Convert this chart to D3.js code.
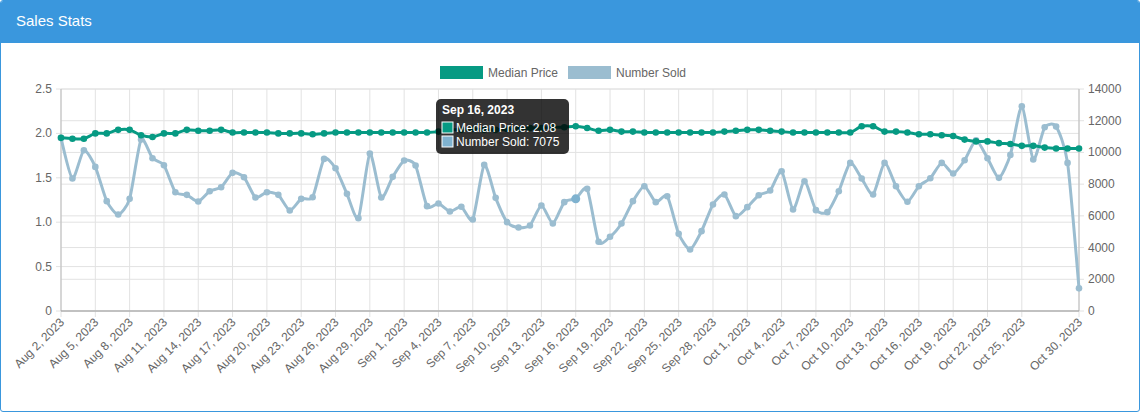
<!DOCTYPE html>
<html><head><meta charset="utf-8">
<script src="https://cdn.jsdelivr.net/npm/d3@7"></script>
<style>
body{margin:0;background:#fff;font-family:"Liberation Sans",Arial,sans-serif;}
#card{position:absolute;left:0;top:0;width:1138px;height:410px;border:1px solid #3a97dd;border-radius:3px;overflow:hidden;}
#head{height:42px;background:#3a97dd;color:#fff;font-size:15px;line-height:40px;padding-left:15px;}
</style></head>
<body>
<div id="card"><div id="head">Sales Stats</div></div>
<svg id="viz" width="1140" height="412" style="position:absolute;left:0;top:0"></svg>
<script>
const startDate = new Date(2023, 7, 2);
const medianPrice = [1.95,1.94,1.94,2.00,2.00,2.04,2.04,1.98,1.96,2.00,2.00,2.04,2.03,2.03,2.04,2.01,2.01,2.01,2.01,2.00,2.00,2.00,1.99,2.00,2.01,2.01,2.01,2.01,2.01,2.01,
  2.01,2.01,2.01,2.02,2.04,2.04,2.05,2.04,2.04,2.05,2.05,2.06,2.06,2.07,2.07,2.08,2.06,2.03,2.04,2.02,2.02,2.01,2.01,2.01,2.01,2.01,2.01,2.01,2.02,2.03,
  2.04,2.04,2.03,2.02,2.01,2.01,2.01,2.01,2.01,2.01,2.08,2.08,2.02,2.02,2.01,1.99,1.99,1.98,1.97,1.93,1.91,1.91,1.89,1.88,1.86,1.86,1.84,1.83,1.83,1.83];
const numberSold = [10915,8354,10138,9088,6926,6087,7073,10810,9634,9193,7493,7325,6905,7556,7808,8711,8438,7157,7493,7325,6339,7073,7178,9592,9004,7388,5856,9928,7157,8459,
  9487,9172,6612,6780,6276,6570,5772,9214,7136,5604,5268,5394,6654,5520,6864,7075,7703,4366,4681,5520,6926,7871,6864,7241,4870,3883,5037,6717,7346,5982,
  6549,7304,7598,8816,6402,8186,6360,6234,7556,9340,8354,7346,9340,7871,6885,7871,8375,9340,8669,9508,10768,9634,8396,9844,12909,9550,11586,11628,9340,1427];
const leftTicks = [0,0.5,1.0,1.5,2.0,2.5];
const rightTicks = [0,2000,4000,6000,8000,10000,12000,14000];
const seriesNames = ["Median Price","Number Sold"];
const colors = ["#069a83","#9bbdd0"];

const fmt = d3.timeFormat("%b %-d, %Y");
const dates = numberSold.map((_, i) => d3.timeDay.offset(startDate, i));
const labelIdx = d3.range(0, 85, 3).concat([89]);

const svg = d3.select("#viz");
const L = 61, R = 1079, T = 89, B = 311;
const x = d3.scaleLinear().domain([0, 89]).range([L, R]);
const yL = d3.scaleLinear().domain([0, 2.5]).range([B, T]);
const yR = d3.scaleLinear().domain([0, 14000]).range([B, T]);

// grids
const g = svg.append("g");
g.selectAll(".vg").data(labelIdx).join("line")
  .attr("x1", d => x(d)).attr("x2", d => x(d)).attr("y1", T).attr("y2", B + 6)
  .attr("stroke", "#e2e2e2");
g.selectAll(".hl").data(leftTicks).join("line")
  .attr("x1", L - 5).attr("x2", R).attr("y1", d => yL(d)).attr("y2", d => yL(d)).attr("stroke", "#e2e2e2");
g.selectAll(".hr").data(rightTicks).join("line")
  .attr("x1", L).attr("x2", R + 5).attr("y1", d => yR(d)).attr("y2", d => yR(d)).attr("stroke", "#e2e2e2");
g.append("line").attr("x1", L).attr("x2", L).attr("y1", T).attr("y2", B).attr("stroke", "#bbb");
g.append("line").attr("x1", R).attr("x2", R).attr("y1", T).attr("y2", B).attr("stroke", "#bbb");
g.append("line").attr("x1", L).attr("x2", R).attr("y1", B).attr("y2", B).attr("stroke", "#999");

const tickStyle = s => s.attr("font-size", 12).attr("fill", "#666");
svg.selectAll(".lt").data(leftTicks).join("text").call(tickStyle)
  .attr("x", L - 9).attr("y", d => yL(d) + 4).attr("text-anchor", "end")
  .text(d => d === 0 ? "0" : d.toFixed(1));
svg.selectAll(".rt").data(rightTicks).join("text").call(tickStyle)
  .attr("x", R + 9).attr("y", d => yR(d) + 4).text(d => d);
svg.selectAll(".xt").data(labelIdx).join("text").call(tickStyle)
  .attr("text-anchor", "end")
  .attr("transform", d => `translate(${x(d) + 4},${B + 12}) rotate(-45)`)
  .text(d => fmt(dates[d]));

// lines
const curve = d3.curveCardinal.tension(0.35);
const drawSeries = (data, y, color) => {
  svg.append("path").datum(data).attr("fill", "none").attr("stroke", color).attr("stroke-width", 3)
    .attr("d", d3.line().x((d, i) => x(i)).y(d => y(d)).curve(curve));
  svg.append("g").selectAll("circle").data(data).join("circle")
    .attr("cx", (d, i) => x(i)).attr("cy", d => y(d)).attr("r", 3.3).attr("fill", color);
};
drawSeries(numberSold, yR, colors[1]);
drawSeries(medianPrice, yL, colors[0]);
svg.append("circle").attr("cx", x(45)).attr("cy", yR(numberSold[45])).attr("r", 4.5).attr("fill", "#7fb2cf");

// legend
const leg = [{x: 440}, {x: 568}];
leg.forEach((l, i) => {
  svg.append("rect").attr("x", l.x).attr("y", 66).attr("width", 43).attr("height", 13).attr("fill", colors[i]);
  svg.append("text").attr("x", l.x + 48).attr("y", 77).attr("font-size", 12).attr("fill", "#666").text(seriesNames[i]);
});

// tooltip
const tip = svg.append("g").attr("transform", "translate(436,99)");
tip.append("rect").attr("width", 133).attr("height", 55).attr("rx", 5).attr("fill", "rgba(0,0,0,0.8)");
tip.append("text").attr("x", 6).attr("y", 15).attr("fill", "#fff").attr("font-size", 12).attr("font-weight", "bold")
  .text(fmt(dates[45]));
[["Median Price: " + medianPrice[45].toFixed(2), colors[0]], ["Number Sold: " + numberSold[45], "#7fb2cf"]].forEach((r, i) => {
  tip.append("rect").attr("x", 6).attr("y", 23 + i * 14).attr("width", 11).attr("height", 11)
    .attr("fill", r[1]).attr("stroke", "#fff").attr("stroke-width", 1);
  tip.append("text").attr("x", 20).attr("y", 33 + i * 14).attr("fill", "#fff").attr("font-size", 12).text(r[0]);
});
</script>
</body></html>
